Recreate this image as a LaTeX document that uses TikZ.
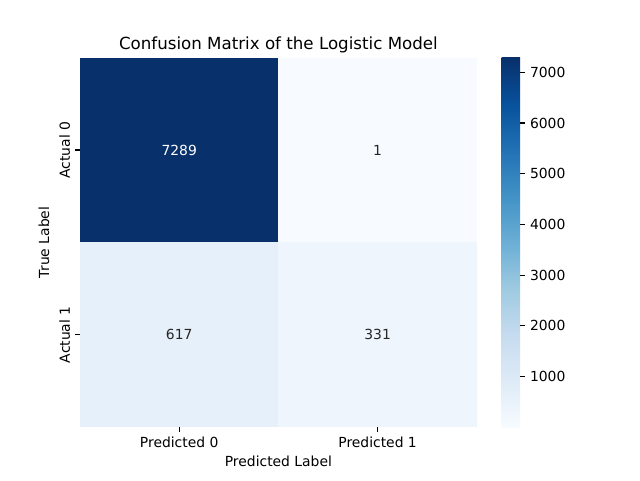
\documentclass[tikz,border=0pt]{standalone}
\usepackage{fontspec}
\setmainfont{DejaVu Sans}
\definecolor{b0}{HTML}{F7FBFF}
\definecolor{b1}{HTML}{DEEBF7}
\definecolor{b2}{HTML}{C6DBEF}
\definecolor{b3}{HTML}{9ECAE1}
\definecolor{b4}{HTML}{6BAED6}
\definecolor{b5}{HTML}{4292C6}
\definecolor{b6}{HTML}{2171B5}
\definecolor{b7}{HTML}{08519C}
\definecolor{b8}{HTML}{08306B}
\definecolor{c617}{RGB}{230,240,250}
\definecolor{c331}{RGB}{238,245,252}
\definecolor{darktxt}{RGB}{38,38,38}
\pgfdeclareverticalshading{bluesbar}{100bp}{color(0bp)=(b0); color(25bp)=(b0); color(31.25bp)=(b1); color(37.5bp)=(b2); color(43.75bp)=(b3); color(50bp)=(b4); color(56.25bp)=(b5); color(62.5bp)=(b6); color(68.75bp)=(b7); color(75bp)=(b8); color(100bp)=(b8)}
\tikzset{
  cell/.style={rectangle, inner sep=0pt, minimum width=198.4pt, minimum height=184.8pt, font=\fontsize{13.89}{16}\selectfont},
  ticklbl/.style={inner sep=0pt, font=\fontsize{13.89}{16}\selectfont, text=black},
  tickmark/.style={line width=1.1pt, black},
}
\begin{document}
\begin{tikzpicture}[x=1pt,y=-1pt]
\useasboundingbox[fill=white] (0,0) rectangle (640,480);
% title
\node[inner sep=0pt, anchor=base, font=\fontsize{16.67}{20}\selectfont] (title) at (278.4,49.3) {Confusion Matrix of the Logistic Model};
% cells
\node[cell, fill=b8, text=white] (c00) at (179.2,150.0) {7289};
\node[cell, fill=b0, text=darktxt] (c01) at (377.6,150.0) {1};
\node[cell, fill=c617, text=darktxt] (c10) at (179.2,334.8) {617};
\node[cell, fill=c331, text=darktxt] (c11) at (377.6,334.8) {331};
% y ticks
\draw[tickmark] (75.1,150.0) -- (80,150.0);
\draw[tickmark] (75.1,334.8) -- (80,334.8);
\node[ticklbl, rotate=90, anchor=south] (ya0) at (70.3,150.0) {Actual 0};
\node[ticklbl, rotate=90, anchor=south] (ya1) at (70.3,334.8) {Actual 1};
\node[ticklbl, rotate=90, anchor=south] (ylab) at (49.5,242.4) {True Label};
% x ticks
\draw[tickmark] (179.2,427.2) -- (179.2,432.1);
\draw[tickmark] (377.6,427.2) -- (377.6,432.1);
\node[ticklbl, anchor=north] (xp0) at (179.2,437.0) {Predicted 0};
\node[ticklbl, anchor=north] (xp1) at (377.6,437.0) {Predicted 1};
\node[ticklbl, anchor=north] (xlab) at (278.4,456.0) {Predicted Label};
% colorbar
\shade[shading=bluesbar] (501.6,57.6) rectangle (520.1,427.2);
\foreach \v/\y in {1000/376.5,2000/325.8,3000/275.1,4000/224.4,5000/173.7,6000/123.0,7000/72.3}{
  \draw[tickmark] (520.1,\y) -- (525.0,\y);
  \node[ticklbl, anchor=west] (cb\v) at (529.8,\y) {\v};
}
\end{tikzpicture}
\end{document}
